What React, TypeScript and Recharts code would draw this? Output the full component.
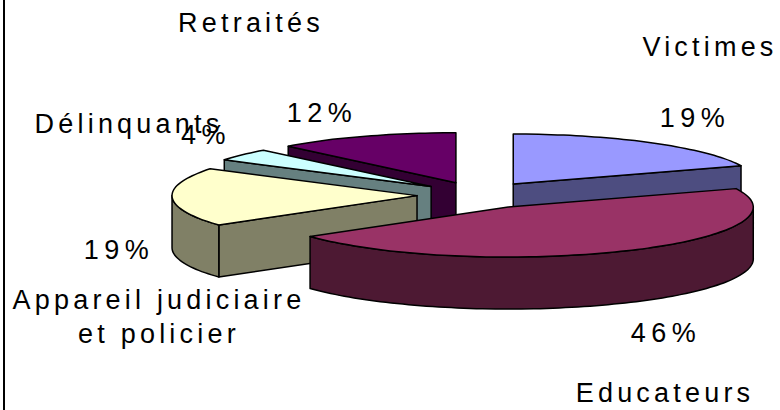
import { Pie, PieChart } from "recharts";

const categories = ["Victimes", "Educateurs", "Appareil judiciaire|et policier", "Délinquants", "Retraités"];
const shares = [19, 46, 19, 4, 12];
const topColors = ["#9999ff", "#993366", "#ffffcc", "#ccffff", "#660066"];
const sideColors = ["#4d4d80", "#4d1933", "#808066", "#668080", "#330033"];

// back-to-front paint order of the slices
const paintOrder = [4, 3, 2, 0, 1];

const RX = 245;
const TILT = 50 / 245;
const DEPTH = 52;
const EXPLODE_X = 61.6;
const EXPLODE_Y = 13.5;
const CX = 478.6;
const CY = 195.2;
const FONT = "'Liberation Sans', Arial, sans-serif";

const nameLabels = [
  { x: 710, y: 56 },
  { x: 665, y: 402 },
  { x: 159, y: 309 },
  { x: 129, y: 133 },
  { x: 251, y: 32 },
];
const valueLabels = [
  { x: 695, y: 127 },
  { x: 666, y: 342 },
  { x: 119, y: 259 },
  { x: 206, y: 144 },
  { x: 322, y: 122 },
];

const tableData = paintOrder.map((i) => ({
  name: categories[i],
  value: shares[i],
  idx: i,
}));

// recharts angles run counter-clockwise from 3 o'clock
function pt(cx: number, cy: number, deg: number) {
  const r = (deg * Math.PI) / 180;
  return { x: cx + RX * Math.cos(r), y: cy - RX * TILT * Math.sin(r) };
}

function arcPath(cx: number, cy: number, a0: number, a1: number) {
  const ry = RX * TILT;
  const sweep = a1 < a0 ? 1 : 0;
  const steps = Math.max(2, Math.ceil(Math.abs(a1 - a0) / 3));
  let d = "";
  for (let s = 1; s <= steps; s++) {
    const p = pt(cx, cy, a0 + ((a1 - a0) * s) / steps);
    d += `A ${RX} ${ry} 0 0 ${sweep} ${p.x} ${p.y} `;
  }
  return d;
}

// slices are turned back to their real angles here: paint order shuffles the data
const cumulative = shares.map((_, i) => shares.slice(0, i).reduce((a, b) => a + b, 0));
const total = shares.reduce((a, b) => a + b, 0);

function Slice3D(props: any) {
  const idx = props.payload?.idx ?? props.idx;
  const a0 = 90 - (cumulative[idx] / total) * 360;
  const a1 = a0 - (shares[idx] / total) * 360;
  const mid = ((a0 + a1) / 2) * (Math.PI / 180);
  const cx = props.cx + EXPLODE_X * Math.cos(mid);
  const cy = props.cy - EXPLODE_Y * Math.sin(mid);
  const top0 = pt(cx, cy, a0);
  const top1 = pt(cx, cy, a1);
  const stroke = { stroke: "#000", strokeWidth: 1.5, strokeLinejoin: "round" as const };

  // outer wall: only the part of the rim that faces the viewer (angles -180..0)
  const wallFrom = Math.min(a0, 0);
  const wallTo = Math.max(a1, -180);
  const walls = [];
  if (wallFrom > wallTo) {
    const p0 = pt(cx, cy, wallFrom);
    const p1 = pt(cx, cy, wallTo);
    walls.push(
      <path
        key="rim"
        d={`M ${p0.x} ${p0.y} ${arcPath(cx, cy, wallFrom, wallTo)} L ${p1.x} ${p1.y + DEPTH} ${arcPath(cx, cy + DEPTH, wallTo, wallFrom)} Z`}
        fill={sideColors[idx]}
        {...stroke}
      />,
    );
  }
  // flat cut faces that look towards the viewer
  const cut = (p: { x: number; y: number }, k: string) => (
    <path
      key={k}
      d={`M ${cx} ${cy} L ${p.x} ${p.y} L ${p.x} ${p.y + DEPTH} L ${cx} ${cy + DEPTH} Z`}
      fill={sideColors[idx]}
      {...stroke}
    />
  );
  const cos = (deg: number) => Math.cos((deg * Math.PI) / 180);

  return (
    <g>
      {cos(a0) < -0.001 ? cut(top0, "c0") : null}
      {cos(a1) > 0.001 ? cut(top1, "c1") : null}
      {walls}
      <path
        d={`M ${cx} ${cy} L ${top0.x} ${top0.y} ${arcPath(cx, cy, a0, a1)} Z`}
        fill={topColors[idx]}
        {...stroke}
      />
    </g>
  );
}

function SliceLabel(props: any) {
  const idx = props.payload?.idx ?? props.idx;
  const lines = categories[idx].split("|");
  const textStyle = { fontFamily: FONT, fontSize: 27, letterSpacing: 4.2, fill: "#000" };
  return (
    <g>
      <text x={nameLabels[idx].x} y={nameLabels[idx].y} textAnchor="middle" style={textStyle}>
        {lines.map((l, i) => (
          <tspan key={l} x={nameLabels[idx].x} dy={i === 0 ? 0 : 34}>
            {l}
          </tspan>
        ))}
      </text>
      <text x={valueLabels[idx].x} y={valueLabels[idx].y} textAnchor="middle" style={{ ...textStyle, letterSpacing: 5.5 }}>
        {`${shares[idx]}%`}
      </text>
    </g>
  );
}

export default function App() {
  return (
    <div style={{ position: "absolute", left: 0, top: 0, width: 780, height: 410, background: "#fff" }}>
      <div style={{ position: "absolute", left: 3, top: 0, width: 2, height: 410, background: "#000" }} />
      <PieChart
        width={780}
        height={410}
        margin={{ top: 0, right: 0, bottom: 0, left: 0 }}
        style={{ position: "absolute", left: 0, top: 0 }}
      >
        <Pie
          data={tableData}
          dataKey="value"
          nameKey="name"
          cx={CX}
          cy={CY}
          outerRadius={RX}
          startAngle={90}
          endAngle={-270}
          isAnimationActive={false}
          shape={Slice3D}
          label={SliceLabel}
          labelLine={false}
        />
      </PieChart>
    </div>
  );
}
